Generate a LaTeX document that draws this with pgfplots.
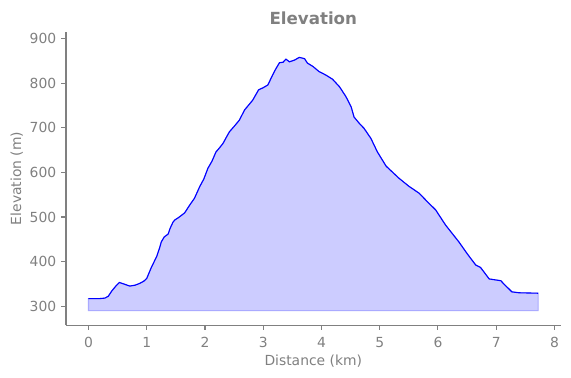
\documentclass[border=0pt]{standalone}
\usepackage{pgfplots}
\pgfplotsset{compat=1.18}
\usepgfplotslibrary{fillbetween}
\usepackage{fontspec}
\setmainfont{DejaVu Sans}
\definecolor{txtgray}{HTML}{808080}
\definecolor{fillblue}{HTML}{CCCCFF}
\definecolor{edgeblue}{HTML}{AAAAFF}
\pgfplotstableread{
x y
0.00 317
0.10 317
0.20 317
0.28 318
0.34 322
0.40 334
0.47 345
0.53 353
0.60 350
0.71 345
0.80 347
0.88 351
0.95 356
1.00 362
1.08 387
1.17 411
1.22 430
1.25 444
1.30 455
1.34 459
1.37 462
1.40 474
1.45 488
1.48 493
1.55 499
1.65 509
1.74 527
1.82 542
1.91 568
1.98 585
2.05 609
2.12 625
2.19 646
2.25 655
2.31 665
2.36 677
2.42 691
2.50 703
2.59 717
2.68 740
2.75 751
2.82 762
2.92 785
3.00 790
3.08 796
3.16 818
3.22 833
3.28 846
3.34 847
3.39 854
3.45 848
3.54 852
3.62 858
3.71 855
3.76 845
3.85 838
3.96 826
4.08 818
4.19 809
4.31 792
4.42 770
4.51 747
4.56 724
4.65 710
4.73 699
4.85 676
4.96 646
5.11 614
5.33 587
5.50 569
5.68 553
5.82 534
5.96 516
6.13 482
6.36 444
6.50 418
6.65 392
6.73 387
6.88 361
7.08 357
7.13 350
7.27 332
7.39 330
7.72 329
}\profile
\begin{document}
\begin{tikzpicture}
\begin{axis}[
  scale only axis,
  width=356pt, height=211pt,
  xmin=-0.386, xmax=8.106,
  ymin=257.5, ymax=915,
  axis lines=left,
  axis line style={-, txtgray, line width=0.8pt},
  tick align=outside,
  major tick length=3.5pt,
  tick style={txtgray, line width=0.8pt},
  xtick={0,1,...,8},
  ytick={300,400,...,900},
  /pgf/number format/assume math mode=true,
  ticklabel style={font=\fontsize{10}{12}\selectfont, text=txtgray},
  xticklabel style={yshift=-1.5pt},
  xlabel={Distance (km)},
  ylabel={Elevation (m)},
  xlabel style={font=\fontsize{10}{12}\selectfont, text=txtgray, at={(axis description cs:0.5,0)}, anchor=center, yshift=-26pt},
  ylabel style={font=\fontsize{10}{12}\selectfont, text=txtgray, at={(axis description cs:0,0.5)}, anchor=center, yshift=35.5pt},
  title={Elevation},
  title style={font=\bfseries\fontsize{12}{14}\selectfont, text=txtgray, at={(axis description cs:0.5,1)}, anchor=south, yshift=-4.6pt},
]
\addplot[name path=base, draw=edgeblue, line width=0.8pt] coordinates {(0,290) (7.72,290)};
\addplot[name path=prof, draw=none, forget plot] table {\profile};
\addplot[fillblue, draw=edgeblue, line width=0.8pt] fill between[of=prof and base];
\addplot[blue, line width=0.8pt] table {\profile};
\end{axis}
\pgfresetboundingbox
\path[use as bounding box] (current axis.south west) ++(-47.5pt,-38pt) rectangle ++(411pt,272pt);
\end{tikzpicture}
\end{document}
